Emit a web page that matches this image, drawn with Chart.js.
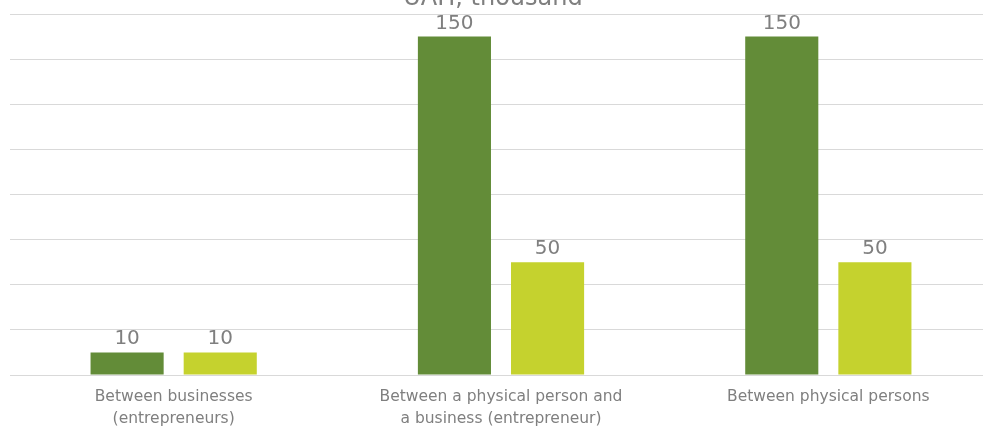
<!DOCTYPE html>
<html>
<head>
<meta charset="utf-8">
<script src="https://cdn.jsdelivr.net/npm/chart.js@4/dist/chart.umd.min.js"></script>
<style>
  html, body { margin: 0; padding: 0; background: #fff; overflow: hidden; }
  #wrap { width: 992px; height: 428px; }
</style>
</head>
<body>
<div id="wrap"><canvas id="chart"></canvas></div>
<script>
// categories and series
const categories = [
  ['Between businesses', '(entrepreneurs)'],
  ['Between a physical person and', 'a business (entrepreneur)'],
  ['Between physical persons']
];
const seriesA = [10, 150, 150];
const seriesB = [10, 50, 50];
const titleText = 'UAH, thousand';

const gray = '#7f7f7f';
const fontFamily = '"DejaVu Sans", sans-serif';

// value labels above each bar
const barLabels = {
  id: 'barLabels',
  afterDatasetsDraw(chart) {
    const ctx = chart.ctx;
    ctx.save();
    ctx.fillStyle = gray;
    ctx.font = '20px ' + fontFamily;
    ctx.textAlign = 'center';
    ctx.textBaseline = 'alphabetic';
    chart.data.datasets.forEach((ds, i) => {
      chart.getDatasetMeta(i).data.forEach((bar, j) => {
        ctx.fillText(ds.data[j], bar.x, bar.y - 8);
      });
    });
    ctx.restore();
  }
};

// title, partly cut off by the top edge as in the picture
const topTitle = {
  id: 'topTitle',
  afterDraw(chart) {
    const ctx = chart.ctx;
    ctx.save();
    ctx.fillStyle = gray;
    ctx.font = '24px ' + fontFamily;
    ctx.textAlign = 'center';
    ctx.textBaseline = 'alphabetic';
    ctx.fillText(titleText, 493, 5);
    ctx.restore();
  }
};

new Chart(document.getElementById('chart'), {
  type: 'bar',
  data: {
    labels: categories,
    datasets: [
      { data: seriesA, backgroundColor: '#638c38' },
      { data: seriesB, backgroundColor: '#c5d22e' }
    ]
  },
  options: {
    responsive: true,
    maintainAspectRatio: false,
    animation: false,
    datasets: { bar: { categoryPercentage: 0.569, barPercentage: 0.785 } },
    layout: { padding: { left: 10, right: 0, top: 14, bottom: 0 } },
    plugins: { legend: { display: false }, tooltip: { enabled: false } },
    scales: {
      x: {
        grid: { display: false },
        border: { display: true, color: '#d9d9d9', width: 1 },
        ticks: {
          color: gray,
          font: { family: fontFamily, size: 15.5, lineHeight: 1.4 },
          padding: 3,
          maxRotation: 0,
          autoSkip: false
        },
        afterFit(scale) { scale.height = 53; }
      },
      y: {
        min: 0,
        max: 160,
        ticks: { display: false, stepSize: 20 },
        grid: { color: '#d9d9d9', lineWidth: 1, drawTicks: false },
        border: { display: false },
        afterFit(scale) { scale.width = 0; }
      }
    }
  },
  plugins: [barLabels, topTitle]
});
</script>
</body>
</html>
